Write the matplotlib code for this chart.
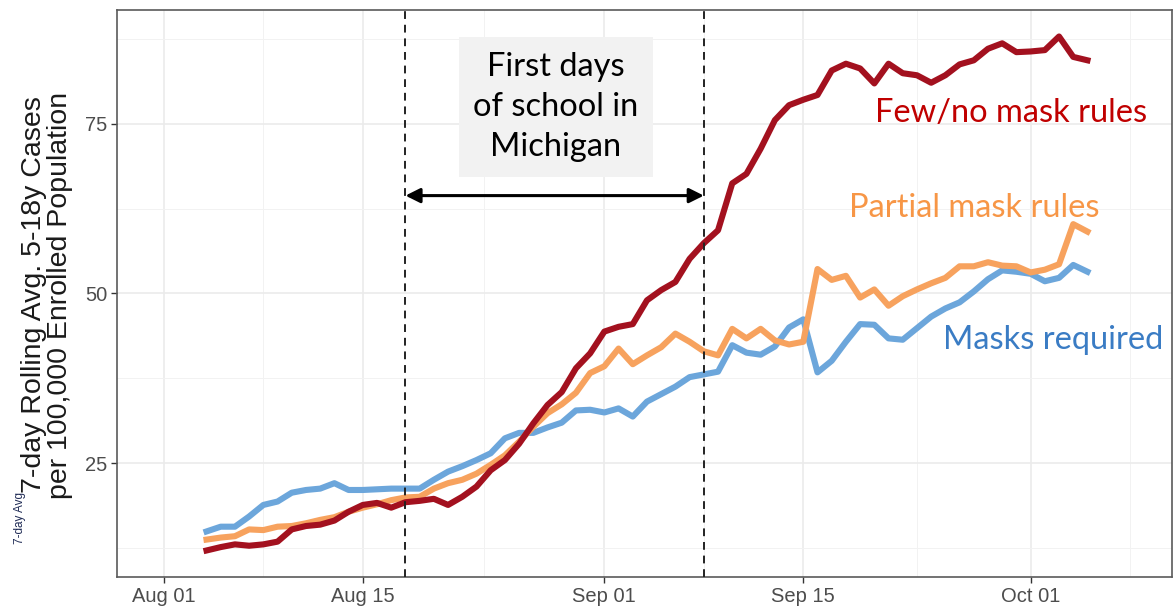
import numpy as np
import pandas as pd
import matplotlib
matplotlib.use('Agg')
import matplotlib.pyplot as plt
import matplotlib.dates as mdates

# 7-day rolling averages, Aug 04 - Oct 05
dates = pd.date_range('2021-08-04', '2021-10-05', freq='D')

masks_required = [
    15.0, 15.7, 15.7, 17.2, 18.9, 19.4, 20.7, 21.1, 21.3, 22.1,
    21.1, 21.1, 21.2, 21.3, 21.3, 21.3, 22.6, 23.8, 24.6, 25.5,
    26.5, 28.7, 29.5, 29.5, 30.3, 31.0, 32.8, 32.9, 32.5, 33.1,
    31.9, 34.1, 35.2, 36.3, 37.7, 38.1, 38.5, 42.4, 41.3, 41.0,
    42.2, 45.0, 46.2, 38.4, 40.1, 42.9, 45.5, 45.4, 43.4, 43.2,
    44.9, 46.6, 47.8, 48.7, 50.3, 52.1, 53.4, 53.2, 52.9, 51.8,
    52.3, 54.2, 53.2,
]
partial_mask = [
    13.8, 14.1, 14.3, 15.3, 15.2, 15.7, 15.8, 16.2, 16.7, 17.1,
    17.9, 18.5, 19.0, 19.6, 20.0, 20.1, 21.3, 22.1, 22.6, 23.5,
    24.8, 26.2, 28.2, 30.4, 32.4, 33.7, 35.4, 38.3, 39.3, 41.9,
    39.6, 40.9, 42.1, 44.1, 42.9, 41.5, 40.9, 44.8, 43.4, 44.8,
    43.1, 42.5, 42.9, 53.6, 52.0, 52.6, 49.4, 50.6, 48.2, 49.6,
    50.6, 51.5, 52.3, 54.0, 54.0, 54.6, 54.1, 54.0, 53.1, 53.5,
    54.3, 60.2, 59.1,
]
few_no_mask = [
    12.2, 12.7, 13.1, 12.9, 13.1, 13.5, 15.3, 15.8, 16.0, 16.6,
    17.9, 18.9, 19.2, 18.5, 19.3, 19.5, 19.8, 18.9, 20.1, 21.6,
    24.0, 25.5, 27.9, 30.9, 33.6, 35.5, 39.0, 41.2, 44.4, 45.1,
    45.5, 49.0, 50.5, 51.7, 55.1, 57.4, 59.3, 66.2, 67.6, 71.3,
    75.5, 77.7, 78.5, 79.2, 82.8, 83.8, 83.1, 80.9, 83.8, 82.4,
    82.1, 81.0, 82.1, 83.7, 84.3, 86.0, 86.8, 85.5, 85.6, 85.8,
    87.8, 84.8, 84.3,
]

school_start = pd.Timestamp('2021-08-18')
school_end = pd.Timestamp('2021-09-08')

major_ticks = pd.to_datetime(['2021-08-01', '2021-08-15', '2021-09-01',
                              '2021-09-15', '2021-10-01'])
minor_ticks = pd.to_datetime(['2021-08-08 00:00', '2021-08-23 12:00', '2021-09-08 00:00',
                              '2021-09-23 00:00', '2021-10-08 00:00'])
tick_labels = ['Aug 01', 'Aug 15', 'Sep 01', 'Sep 15', 'Oct 01']

RED = '#A3111F'
ORANGE = '#F7A25E'
BLUE = '#6CA6DB'

fig = plt.figure(figsize=(11.74, 6.07), dpi=100)
ax = fig.add_axes([117 / 1174, 1 - 577 / 607, (1172 - 117) / 1174, (577 - 10) / 607])

ax.plot(dates, masks_required, color=BLUE, lw=4.4, solid_joinstyle='round')
ax.plot(dates, partial_mask, color=ORANGE, lw=4.4, solid_joinstyle='round')
ax.plot(dates, few_no_mask, color=RED, lw=4.4, solid_joinstyle='round')

for d in (school_start, school_end):
    ax.axvline(d, color='#222222', lw=1.4, ls=(0, (4, 3)), zorder=3)

t0 = pd.Timestamp('2021-08-01')
ax.set_xlim(t0 - pd.Timedelta(days=3.3), t0 + pd.Timedelta(days=70.95))
ax.set_ylim(8.3, 91.7)

ax.set_xticks(major_ticks)
ax.set_xticklabels(tick_labels)
ax.set_xticks(minor_ticks, minor=True)
ax.set_yticks([25, 50, 75])
ax.set_yticks([12.5, 37.5, 62.5, 87.5], minor=True)

ax.grid(which='major', color='#EBEBEB', lw=1.2)
ax.grid(which='minor', color='#F2F2F2', lw=0.7)
ax.set_axisbelow(True)
ax.tick_params(which='major', length=4, width=1, color='#333333',
               labelsize=14.5, labelcolor='#4D4D4D', pad=3)
ax.tick_params(which='minor', length=0)
for lbl in ax.get_xticklabels() + ax.get_yticklabels():
    lbl.set_family('Liberation Sans')
for s in ax.spines.values():
    s.set_color('#5A5A5A')
    s.set_linewidth(1.2)

fig.text(47 / 1174, 1 - 295 / 607,
         '7-day Rolling Avg. 5-18y Cases\nper 100,000 Enrolled Population',
         rotation=90, ha='center', va='center', fontsize=20.5,
         family='Liberation Sans', color='#1A1A1A', linespacing=1.0)
fig.text(20 / 1174, 1 - 518 / 607, '7-day Avg', rotation=90,
         ha='center', va='center', fontsize=8.5, family='Liberation Sans',
         color='#1F2B55')

# school start window
ax.annotate('', xy=(school_end, 64.4), xytext=(school_start, 64.4),
            arrowprops=dict(arrowstyle='<|-|>', color='black', lw=2.2,
                            mutation_scale=22, shrinkA=0, shrinkB=0))
ax.text(t0 + pd.Timedelta(days=27.6), 77.4, 'First days\nof school in\nMichigan',
        ha='center', va='center', fontsize=23.5, family='Lato', color='black',
        linespacing=1.42,
        bbox=dict(boxstyle='square,pad=0.45', fc='#F2F2F2', ec='none'))

ax.text(t0 + pd.Timedelta(days=59.6), 76.6, 'Few/no mask rules', color='#C00000',
        ha='center', va='center', fontsize=23.5, family='Lato')
ax.text(t0 + pd.Timedelta(days=57.0), 62.6, 'Partial mask rules', color='#F79646',
        ha='center', va='center', fontsize=23.5, family='Lato')
ax.text(t0 + pd.Timedelta(days=62.6), 43.2, 'Masks required', color='#3A7CC4',
        ha='center', va='center', fontsize=23.5, family='Lato')

fig.savefig('out.png', dpi=100)
